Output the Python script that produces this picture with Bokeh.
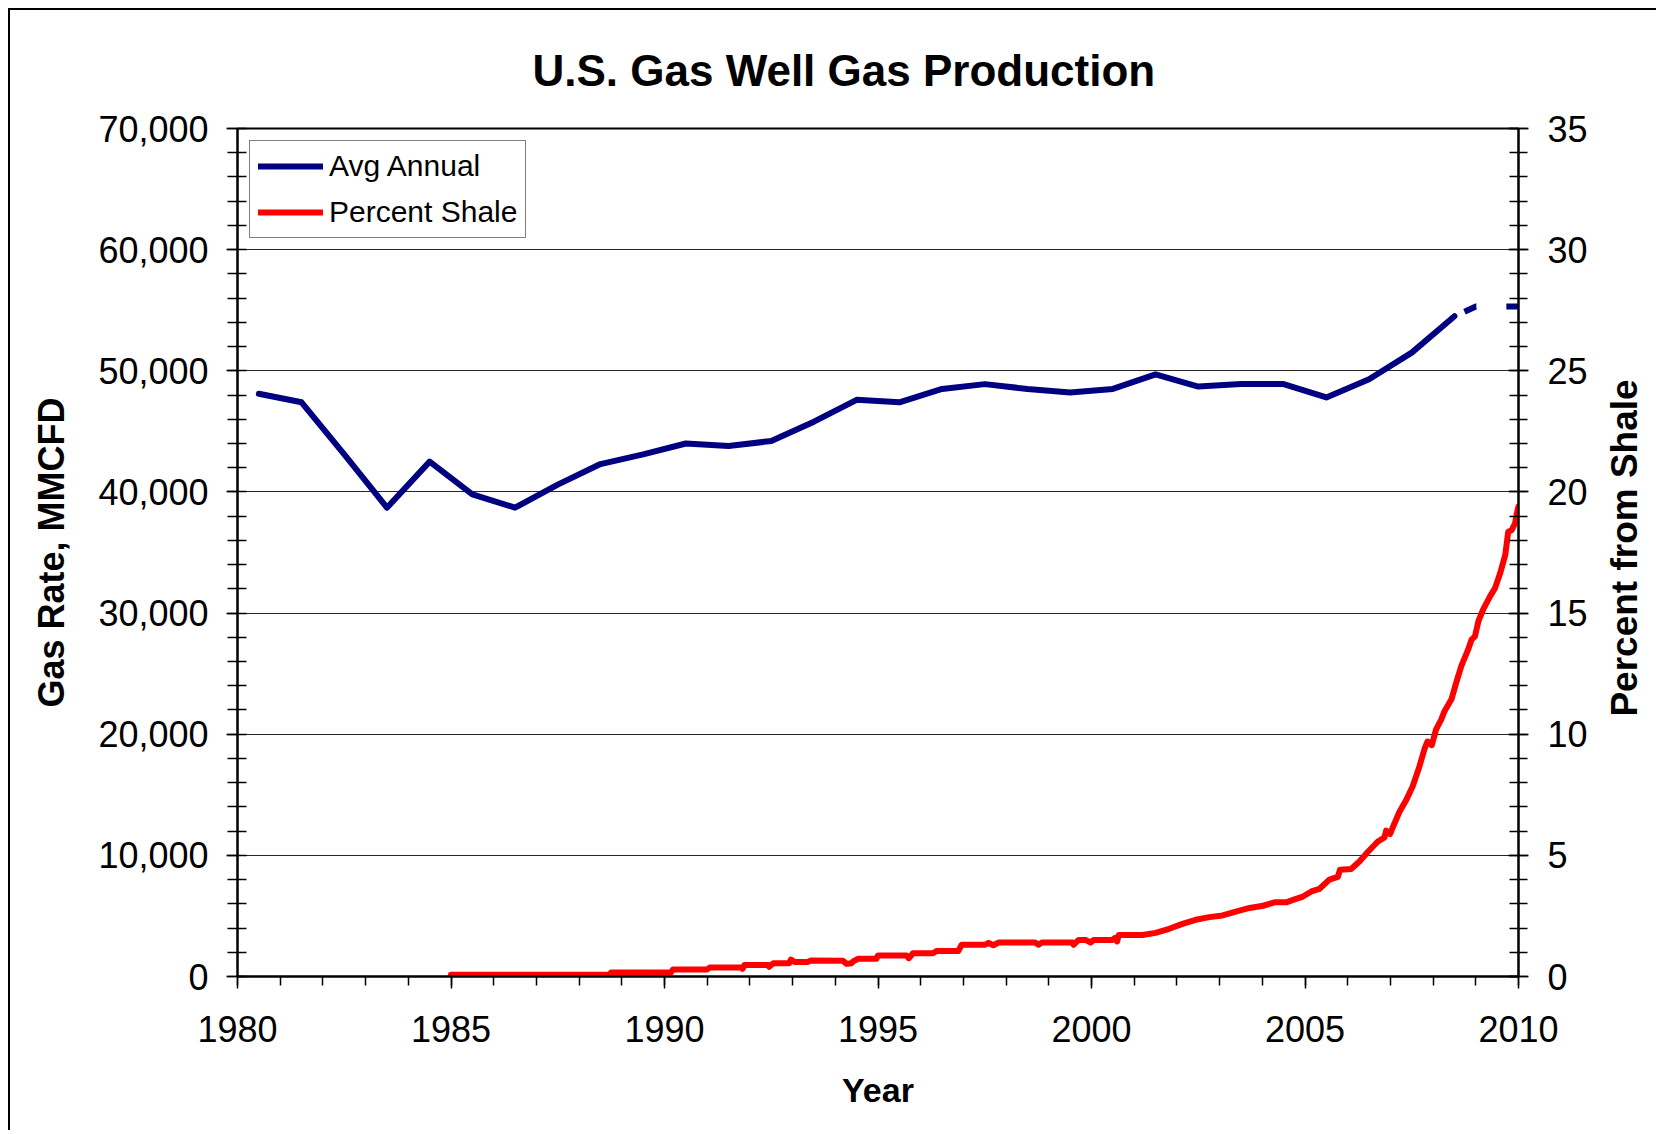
import math
from bokeh.plotting import figure
from bokeh.layouts import row
from bokeh.core.properties import value
from bokeh.models import (Range1d, LinearAxis, SingleIntervalTicker, NumeralTickFormatter,
                          Legend, LegendItem)
from bokeh.embed import file_html
from bokeh.resources import INLINE

# ---- data ----
avg_years = [1980.5, 1981.5, 1982.5, 1983.5, 1984.5, 1985.5, 1986.5, 1987.5, 1988.5, 1989.5,
             1990.5, 1991.5, 1992.5, 1993.5, 1994.5, 1995.5, 1996.5, 1997.5, 1998.5, 1999.5,
             2000.5, 2001.5, 2002.5, 2003.5, 2004.5, 2005.5, 2006.5, 2007.5, 2008.5]
avg_rate = [48100, 47400, 43100, 38700, 42500, 39800, 38700, 40600, 42300, 43100,
            44000, 43800, 44200, 45800, 47600, 47400, 48500, 48900, 48500, 48200,
            48500, 49700, 48700, 48900, 48900, 47800, 49300, 51500, 54500]

proj_years = [2008.5, 2009.0, 2010.0]
proj_rate = [54500, 55300, 55300]

shale_years = [1985.0, 1988.7, 1988.75, 1990.15, 1990.2, 1991.0, 1991.06, 1991.8, 1991.83, 1991.87,
               1992.42, 1992.45, 1992.55, 1992.92, 1992.96, 1993.05, 1993.36, 1993.42, 1994.18, 1994.26,
               1994.38, 1994.42, 1994.53, 1994.96, 1995.0, 1995.67, 1995.72, 1995.82, 1996.29, 1996.37,
               1996.88, 1996.96, 1997.51, 1997.59, 1997.70, 1997.82, 1998.68, 1998.76, 1998.84, 1999.55,
               1999.58, 1999.70, 1999.86, 1999.98, 2000.05, 2000.49, 2000.55, 2000.60, 2000.64, 2001.19,
               2001.50, 2001.82, 2002.13, 2002.44, 2002.76, 2003.07, 2003.38, 2003.70, 2004.02, 2004.29,
               2004.56, 2004.72, 2004.95, 2005.15, 2005.34, 2005.57, 2005.77, 2005.82, 2006.08, 2006.28,
               2006.47, 2006.70, 2006.86, 2006.90, 2006.99, 2007.21, 2007.37, 2007.52, 2007.68, 2007.80,
               2007.87, 2007.97, 2008.07, 2008.19, 2008.27, 2008.43, 2008.54, 2008.66, 2008.82, 2008.90,
               2008.98, 2009.06, 2009.17, 2009.33, 2009.45, 2009.57, 2009.69, 2009.76, 2009.84, 2009.92,
               2009.96, 2010.0]
shale_pct = [0.07, 0.07, 0.17, 0.17, 0.29, 0.29, 0.37, 0.37, 0.32, 0.47,
             0.47, 0.40, 0.55, 0.55, 0.70, 0.60, 0.60, 0.66, 0.65, 0.52,
             0.55, 0.62, 0.73, 0.73, 0.87, 0.87, 0.75, 0.96, 0.96, 1.05,
             1.05, 1.31, 1.31, 1.39, 1.29, 1.40, 1.40, 1.31, 1.40, 1.40,
             1.31, 1.51, 1.51, 1.40, 1.51, 1.51, 1.59, 1.45, 1.71, 1.71,
             1.80, 1.97, 2.17, 2.34, 2.45, 2.52, 2.68, 2.83, 2.92, 3.06,
             3.06, 3.16, 3.30, 3.51, 3.62, 4.00, 4.11, 4.41, 4.44, 4.76,
             5.14, 5.56, 5.74, 6.02, 5.88, 6.79, 7.28, 7.84, 8.67, 9.40,
             9.70, 9.55, 10.2, 10.6, 10.96, 11.44, 12.12, 12.81, 13.49, 13.90,
             14.04, 14.66, 15.14, 15.68, 16.03, 16.64, 17.40, 18.36, 18.42, 18.70,
             19.11, 19.40]

title_text = "U.S. Gas Well Gas Production"
x_label = "Year"
y_label = "Gas Rate, MMCFD"
y2_label = "Percent from Shale"

FONT = "Liberation Sans"
NAVY = "#000080"
RED = "#FF0000"

H = 1122
TOP, BOTTOM = 118, 156

p = figure(width=1590, height=H,
           x_range=Range1d(1980, 2010), y_range=Range1d(0, 70000),
           output_backend="svg", toolbar_location=None,
           min_border_left=227, min_border_right=82,
           min_border_top=TOP, min_border_bottom=BOTTOM,
           background_fill_color="white", border_fill_color="white")
p.margin = (8, 0, 0, 8)
p.styles = {"border-left": "2px solid black", "border-top": "2px solid black"}

p.title.text = title_text
p.title.text_font = FONT
p.title.text_font_size = "44px"
p.title.text_font_style = "bold"
p.title.text_color = "black"
p.title.align = "left"
p.title.offset = 295
p.title.standoff = 67

p.outline_line_color = "black"
p.outline_line_width = 2

p.extra_y_ranges = {"pct": Range1d(0, 35)}

# axes
xa = p.xaxis[0]
xa.ticker = SingleIntervalTicker(interval=5, num_minor_ticks=5)
ya = p.yaxis[0]
ya.ticker = SingleIntervalTicker(interval=10000, num_minor_ticks=5)
ya.formatter = NumeralTickFormatter(format="0,0")

ya2 = LinearAxis(y_range_name="pct", ticker=SingleIntervalTicker(interval=5, num_minor_ticks=5))
p.add_layout(ya2, "right")

for ax in (xa, ya, ya2):
    ax.axis_line_color = "black"
    ax.axis_line_width = 2
    ax.major_tick_line_color = "black"
    ax.minor_tick_line_color = "black"
    ax.major_tick_line_width = 1.5
    ax.minor_tick_line_width = 1.5
    ax.major_label_text_font = FONT
    ax.major_label_text_font_size = "36px"
    ax.major_label_text_color = "black"
    ax.axis_label_text_font = FONT
    ax.axis_label_text_font_style = "bold"
    ax.axis_label_text_color = "black"

xa.axis_label = x_label
xa.axis_label_text_font_size = "34px"
xa.major_tick_in = 0
xa.major_tick_out = 12
xa.minor_tick_in = 0
xa.minor_tick_out = 9
xa.major_label_standoff = 27
xa.axis_label_standoff = 26

ya.axis_label = y_label
ya.axis_label_text_font_size = "36px"
ya.major_tick_in = 0
ya.major_tick_out = 11
ya.minor_tick_in = 9
ya.minor_tick_out = 10
ya.major_label_standoff = 18
ya.axis_label_standoff = 23

ya2.major_tick_in = 10
ya2.major_tick_out = 10
ya2.minor_tick_in = 9
ya2.minor_tick_out = 9
ya2.major_label_standoff = 19

p.xgrid.visible = False
p.ygrid.grid_line_color = "black"
p.ygrid.grid_line_alpha = 0.85
p.ygrid.grid_line_width = 1

# lines
r_avg = p.line(avg_years, avg_rate, line_color=NAVY, line_width=6,
               line_join="round", line_cap="round")
p.line(proj_years, proj_rate, line_color=NAVY, line_width=6,
       line_dash="13 30", line_dash_offset=32)
r_shale = p.line(shale_years, shale_pct, y_range_name="pct", line_color=RED, line_width=6,
                 line_join="round", line_cap="round")

legend = Legend(items=[LegendItem(label="Avg Annual", renderers=[r_avg]),
                       LegendItem(label="Percent Shale", renderers=[r_shale])],
                location="top_left")
legend.margin = 12
legend.padding = 8
legend.spacing = 12
legend.label_height = 34
legend.glyph_height = 34
legend.glyph_width = 65
legend.label_standoff = 6
legend.label_text_font = FONT
legend.label_text_font_size = "30px"
legend.label_text_color = "black"
legend.border_line_color = "black"
legend.border_line_width = 1
legend.background_fill_alpha = 1
p.add_layout(legend)

# strip on the right holding the right-hand axis title (reads bottom to top)
QW = 58
q = figure(width=QW, height=H, x_range=Range1d(0, QW), y_range=Range1d(0, H),
           output_backend="svg", toolbar_location=None,
           x_axis_type=None, y_axis_type=None,
           min_border=0, background_fill_color="white", border_fill_color="white")
q.margin = (8, 0, 0, 0)
q.styles = {"border-top": "2px solid black"}
q.outline_line_color = None
q.grid.visible = False
label_y = BOTTOM + (H - TOP - BOTTOM) / 2 - 13
q.text(x=[26], y=[label_y], text=[y2_label], angle=math.pi / 2,
       text_align="center", text_baseline="middle",
       text_font=value(FONT), text_font_size=value("37px"),
       text_font_style="bold", text_color="black")

layout = row(p, q)
open("out.html", "w").write(file_html(layout, INLINE))
